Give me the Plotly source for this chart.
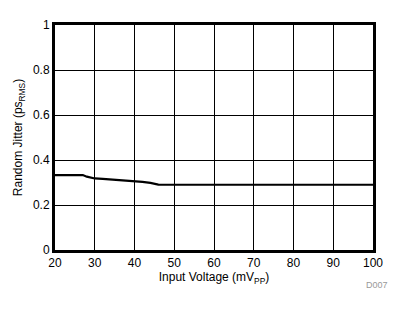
import plotly.graph_objects as go

voltage = [20, 27, 28, 29, 30, 32, 34, 36, 38, 40, 42, 44, 45, 46, 50, 60, 70, 80, 90, 100]
jitter = [0.333, 0.333, 0.326, 0.321, 0.318, 0.316, 0.314, 0.312, 0.310, 0.307, 0.303, 0.298, 0.293, 0.291, 0.290, 0.290, 0.290, 0.290, 0.290, 0.290]

x_ticks = [20, 30, 40, 50, 60, 70, 80, 90, 100]
y_ticks = [0, 0.2, 0.4, 0.6, 0.8, 1]
y_tick_text = ["0", "0.2", "0.4", "0.6", "0.8", "1"]

fig = go.Figure()
fig.add_trace(go.Scatter(x=voltage, y=jitter, mode="lines",
                         line=dict(color="black", width=2.2), showlegend=False))

font = dict(family="Liberation Sans, Arial, sans-serif", size=12, color="black")
fig.update_layout(
    width=406, height=312,
    margin=dict(l=55, r=33, t=25, b=62),
    paper_bgcolor="white", plot_bgcolor="white",
    font=font,
    xaxis=dict(range=[20, 100], tickvals=x_ticks, showgrid=True, gridcolor="black", gridwidth=1,
               showline=True, linecolor="black", linewidth=3, mirror=True, ticks="",
               zeroline=False, title=dict(text="Input Voltage (mV<sub>PP</sub>)", standoff=3, font=font),
               tickfont=font),
    yaxis=dict(range=[0, 1], tickvals=y_ticks, ticktext=y_tick_text, showgrid=True, gridcolor="black", gridwidth=1,
               showline=True, linecolor="black", linewidth=3, mirror=True, ticks="",
               zeroline=False, title=dict(text="Random Jitter (ps<sub>RMS</sub>)", standoff=8, font=font),
               tickfont=font),
)
fig.add_annotation(text="D007", xref="paper", yref="paper", x=1.055, y=-0.125,
                   xanchor="right", yanchor="top", showarrow=False,
                   font=dict(family="Liberation Sans, Arial, sans-serif", size=9, color="#999999"))
fig.write_html("out.html")
